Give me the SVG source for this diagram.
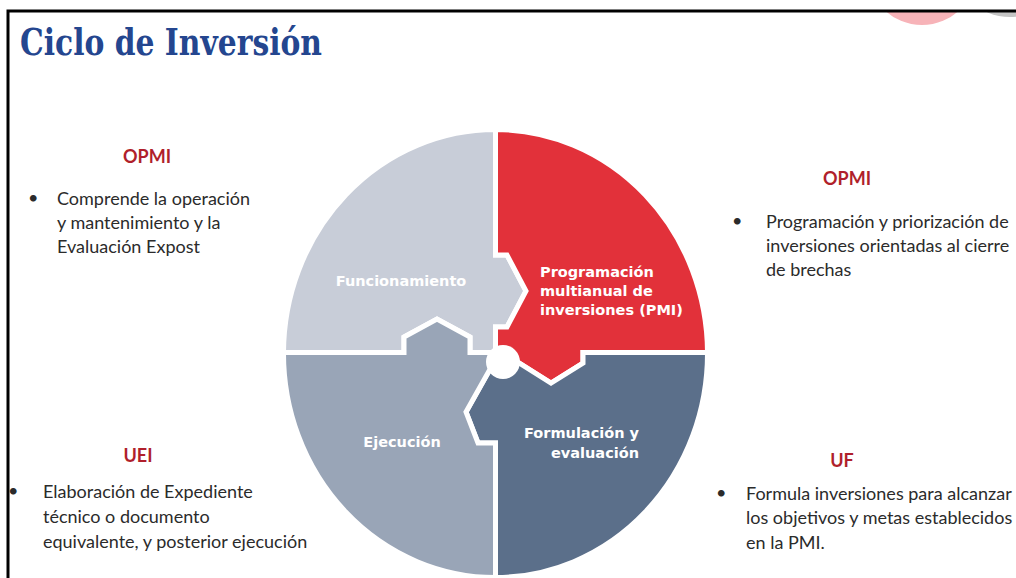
<svg xmlns="http://www.w3.org/2000/svg" width="1016" height="578" viewBox="0 0 1016 578">
<defs>
<style>
.piece{stroke:#fff;stroke-width:5;stroke-linejoin:miter}
.lbl{font-family:"DejaVu Sans","Open Sans",sans-serif;font-weight:700;font-size:14.5px;fill:#fff}
.head{font-family:Lato,"Liberation Sans",sans-serif;font-weight:700;font-size:18px;fill:#b01f2c;text-anchor:middle}
.body{font-family:Lato,"Liberation Sans",sans-serif;font-size:18px;fill:#2b2b2b}
.title{font-family:"DejaVu Serif","Liberation Serif",serif;font-weight:700;font-size:37px;fill:#24468f}
</style>
<clipPath id="topclip"><rect x="8" y="11" width="1008" height="60"/></clipPath>
</defs>
<rect x="0" y="0" width="1016" height="578" fill="#fff"/>
<g clip-path="url(#topclip)">
<circle cx="922" cy="-30" r="55" fill="#f7b3b8"/>
<circle cx="1010" cy="-40" r="57" fill="#c4c4c4"/>
</g>
<path d="M1016 11 H8 V578" fill="none" stroke="#000" stroke-width="3"/>
<text class="title" x="20" y="55" textLength="302" lengthAdjust="spacingAndGlyphs">Ciclo de Inversión</text>

<g id="funcionamiento">
<path class="piece" fill="#c8cdd8" d="M283.5 352.5 A212 224 0 0 1 495.5 129.5 V255 H507 L526 291 L507 327 H495.5 V352.5 H470 V337 L437 319 L404 337 V352.5 Z"/>
<text class="lbl" x="401" y="286" text-anchor="middle" fill="#f2f4f7">Funcionamiento</text>
</g>
<g id="pmi">
<path class="piece" fill="#e2313a" d="M495.5 129.5 A212 224 0 0 1 707.5 352.5 H583 V363 L551 383 L519 363 L503 362 L495.5 352.5 V327 H507 L526 291 L507 255 H495.5 Z"/>
<text class="lbl"><tspan x="540" y="277">Programación</tspan><tspan x="540" y="296">multianual de</tspan><tspan x="540" y="315">inversiones (PMI)</tspan></text>
</g>
<g id="formulacion">
<path class="piece" fill="#5b6f8a" d="M707.5 352.5 A212 224 0 0 1 495.5 577.5 V443 H478 L466 412 L489 371 L503 362 L519 363 L551 383 L583 363 V352.5 Z"/>
<text class="lbl" text-anchor="end"><tspan x="639" y="438">Formulación y</tspan><tspan x="639" y="458">evaluación</tspan></text>
</g>
<g id="ejecucion">
<path class="piece" fill="#99a5b7" d="M495.5 577.5 A212 224 0 0 1 283.5 352.5 H404 V337 L437 319 L470 337 V352.5 H495.5 L503 362 L489 371 L466 412 L478 443 H495.5 Z"/>
<text class="lbl" x="402" y="447" text-anchor="middle">Ejecución</text>
</g>
<g id="hub">
<circle cx="503" cy="362" r="17" fill="#fff"/>
</g>

<g id="note-opmi-left">
<text class="head" x="147" y="163">OPMI</text>
<text class="body" x="28" y="204">•</text>
<text class="body" x="57" y="205">Comprende la operación</text>
<text class="body" x="57" y="229">y mantenimiento y la</text>
<text class="body" x="57" y="253">Evaluación Expost</text>
</g>
<g id="note-opmi-right">
<text class="head" x="847" y="185">OPMI</text>
<text class="body" x="732" y="227">•</text>
<text class="body" x="766" y="228">Programación y priorización de</text>
<text class="body" x="766" y="252">inversiones orientadas al cierre</text>
<text class="body" x="766" y="276">de brechas</text>
</g>
<g id="note-uei">
<text class="head" x="138" y="462">UEI</text>
<text class="body" x="8" y="497">•</text>
<text class="body" x="43" y="498">Elaboración de Expediente</text>
<text class="body" x="43" y="523">técnico o documento</text>
<text class="body" x="43" y="548">equivalente, y posterior ejecución</text>
</g>
<g id="note-uf">
<text class="head" x="842" y="467">UF</text>
<text class="body" x="716" y="499">•</text>
<text class="body" x="746" y="500">Formula inversiones para alcanzar</text>
<text class="body" x="746" y="524">los objetivos y metas establecidos</text>
<text class="body" x="746" y="549">en la PMI.</text>
</g>
<g id="connectors"/>
</svg>
